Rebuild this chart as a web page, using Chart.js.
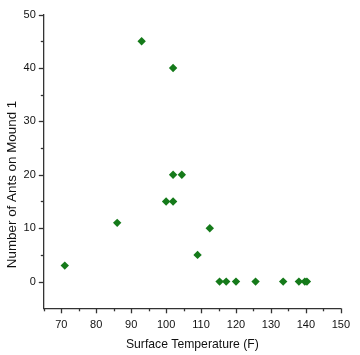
<!DOCTYPE html>
<html><head><meta charset="utf-8">
<script src="https://cdn.jsdelivr.net/npm/chart.js@4/dist/chart.umd.min.js"></script>
<style>html,body{margin:0;padding:0;background:#fff}</style>
</head><body>
<canvas id="c" width="360" height="355"></canvas>
<script>
// Data
const surfaceTempF = [71, 86, 93, 100, 102, 102, 102, 104.5, 109, 112.5, 115.3, 117.2, 120, 125.6, 133.5, 138, 139.7, 140.3];
const antsOnMound1 = [3, 11, 45, 15, 15, 20, 40, 20, 5, 10, 0, 0, 0, 0, 0, 0, 0, 0];
const xTitle = 'Surface Temperature (F)';
const yTitle = 'Number of Ants on Mound 1';
const xRange = [65, 150];
const yRange = [-5, 50];

const points = surfaceTempF.map((x, i) => ({x, y: antsOnMound1[i]}));
const AXIS = '#333333';
const FAMILY = '"Liberation Sans", Arial, sans-serif';
const TICKFONT = {family: FAMILY, size: 11};

const ticksPlugin = {
  id: 'minorMajorTicks',
  afterDraw(chart) {
    const ctx = chart.ctx;
    ctx.save();
    ctx.strokeStyle = AXIS;
    ctx.lineWidth = 1.3;
    const xs = chart.scales.x, ys = chart.scales.y;
    const xAxisY = chart.chartArea.bottom;
    const yAxisX = chart.chartArea.left;
    xs.ticks.forEach(t => {
      const px = Math.round(xs.getPixelForValue(t.value)) + 0.5;
      const len = (t.value % 10 === 0) ? 5 : 3;
      ctx.beginPath(); ctx.moveTo(px, xAxisY); ctx.lineTo(px, xAxisY + len); ctx.stroke();
    });
    ys.ticks.forEach(t => {
      if (t.value === yRange[0]) return;
      const py = Math.round(ys.getPixelForValue(t.value)) + 0.5;
      const len = (t.value % 10 === 0) ? 5 : 3;
      ctx.beginPath(); ctx.moveTo(yAxisX, py); ctx.lineTo(yAxisX - len, py); ctx.stroke();
    });
    // y axis title
    const ca = chart.chartArea;
    ctx.fillStyle = '#111';
    ctx.font = '13.4px ' + FAMILY;
    ctx.textAlign = 'center';
    ctx.textBaseline = 'middle';
    ctx.translate(12.5, (ca.top + ca.bottom) / 2 + 23);
    ctx.rotate(-Math.PI / 2);
    ctx.fillText(yTitle, 0, 0);
    ctx.restore();
  }
};

new Chart(document.getElementById('c'), {
  type: 'scatter',
  data: {
    datasets: [{
      data: points,
      pointStyle: 'rectRot',
      pointRadius: 4.2,
      pointHoverRadius: 4.2,
      backgroundColor: '#157a1a',
      borderColor: '#157a1a',
      borderWidth: 0
    }]
  },
  options: {
    responsive: false,
    animation: false,
    events: [],
    layout: {autoPadding: false, padding: {top: 7.5, right: 11.7, left: 0, bottom: 0}},
    plugins: {legend: {display: false}, tooltip: {enabled: false}},
    scales: {
      x: {
        type: 'linear', min: xRange[0], max: xRange[1],
        afterFit(s) { s.height = 46.7; },
        grid: {display: false, drawTicks: false, tickLength: 0},
        border: {display: true, color: AXIS, width: 1.3},
        ticks: {stepSize: 5, padding: 10, color: '#111', font: TICKFONT, maxRotation: 0, autoSkip: false,
          callback: v => (v % 10 === 0 ? String(v) : '')},
        title: {display: true, text: xTitle, color: '#111', padding: {top: 0, bottom: 3},
          font: {family: FAMILY, size: 12.2}}
      },
      y: {
        type: 'linear', min: yRange[0], max: yRange[1],
        afterFit(s) { s.width = 43.8; },
        grid: {display: false, drawTicks: false, tickLength: 0},
        border: {display: true, color: AXIS, width: 1.3},
        ticks: {stepSize: 5, padding: 8, color: '#111', font: TICKFONT, autoSkip: false,
          callback: v => (v % 10 === 0 && v >= 0 ? String(v) : '')},
        title: {display: false}
      }
    }
  },
  plugins: [ticksPlugin]
});
</script>
</body></html>
